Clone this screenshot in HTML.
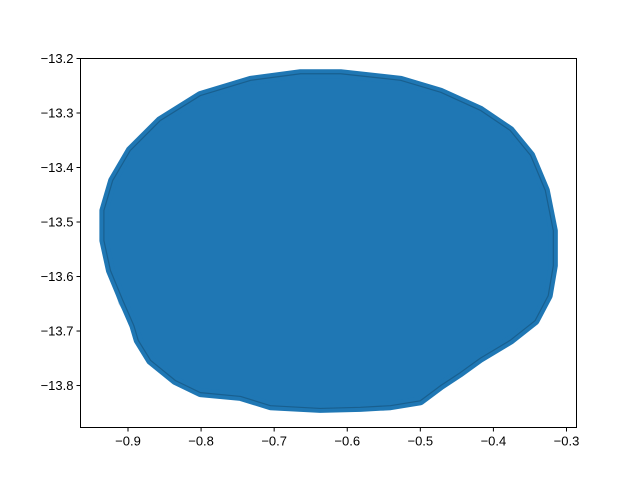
<!DOCTYPE html>
<html><head><meta charset="utf-8"><style>
body{margin:0;background:#fff;}
svg text{font-family:"Liberation Sans","DejaVu Sans",sans-serif;font-size:13px;fill:#000;}
</style></head><body>
<svg id="chart" width="640" height="480" xmlns="http://www.w3.org/2000/svg">
<rect width="640" height="480" fill="#fff"/>
<g id="plot"></g>
<rect x="80.5" y="58.5" width="496" height="369" fill="none" stroke="#000" stroke-width="1"/>
<g id="axes"></g>
</svg>
<script>
const blobX=[-0.664,-0.609,-0.527,-0.472,-0.418,-0.377,-0.349,-0.329,-0.318,-0.318,-0.325,-0.343,-0.377,-0.418,-0.445,-0.472,-0.500,-0.541,-0.582,-0.637,-0.705,-0.746,-0.801,-0.835,-0.869,-0.886,-0.892,-0.907,-0.924,-0.933,-0.933,-0.921,-0.897,-0.856,-0.801,-0.732];
const blobY=[-13.228,-13.228,-13.240,-13.262,-13.295,-13.332,-13.378,-13.442,-13.516,-13.580,-13.635,-13.681,-13.717,-13.750,-13.776,-13.800,-13.828,-13.837,-13.840,-13.842,-13.837,-13.820,-13.813,-13.791,-13.754,-13.717,-13.690,-13.644,-13.589,-13.534,-13.479,-13.424,-13.369,-13.314,-13.268,-13.240];
const hullX=[-0.933,-0.912,-0.880,-0.750,-0.550,-0.450,-0.318];
const hullY=[-13.560,-13.650,-13.720,-13.820,-13.845,-13.780,-13.600];
const xTicks=[-0.9,-0.8,-0.7,-0.6,-0.5,-0.4,-0.3];
const yTicks=[-13.2,-13.3,-13.4,-13.5,-13.6,-13.7,-13.8];
const X0=-0.965,X1=-0.2863,Y0=-13.877,Y1=-13.2;
const L=80.5,R=576.5,T=58.5,B=427.5;
const sx=v=>L+(v-X0)/(X1-X0)*(R-L);
const sy=v=>B-(v-Y0)/(Y1-Y0)*(B-T);
const NS="http://www.w3.org/2000/svg";
const plot=document.getElementById('plot'),axes=document.getElementById('axes');
function mk(t,a,p){const e=document.createElementNS(NS,t);for(const k in a)e.setAttribute(k,a[k]);p.appendChild(e);return e;}
const hull=mk('polygon',{points:hullX.map((x,i)=>sx(x)+','+sy(hullY[i])).join(' '),fill:'#1f77b4','fill-opacity':'0.2',stroke:'#1f77b4','stroke-opacity':'0.4'},plot);


const blob=mk('polygon',{points:blobX.map((x,i)=>sx(x)+','+sy(blobY[i])).join(' '),fill:'#1f77b4',stroke:'#1f77b4','stroke-width':'9','stroke-linejoin':'round'},plot);


const edge=mk('polygon',{points:blobX.map((x,i)=>sx(x)+','+sy(blobY[i])).join(' '),fill:'none',stroke:'#185f8f','stroke-width':'1.2','stroke-linejoin':'round'},plot);


xTicks.forEach(v=>{const x=sx(v);
 const l=mk('line',{x1:x,x2:x,y1:B,y2:B+4,stroke:'#000'},axes);
 
 
 const t=mk('text',{x:x,y:B+18,'text-anchor':'middle'},axes);t.textContent=(v<0?'\u2212':'')+Math.abs(v).toFixed(1);
 
 });
yTicks.forEach(v=>{const y=sy(v);
 const l=mk('line',{x1:L-4,x2:L,y1:y,y2:y,stroke:'#000'},axes);
 
 
 const t=mk('text',{x:L-7,y:y+4.5,'text-anchor':'end'},axes);t.textContent='\u2212'+Math.abs(v).toFixed(1);
 
 });
</script>
</body></html>
